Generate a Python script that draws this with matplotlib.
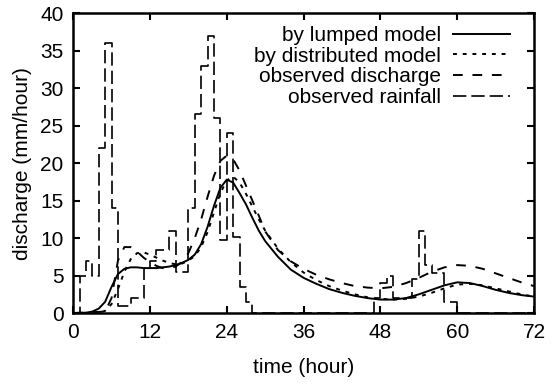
import matplotlib
matplotlib.use('Agg')
import matplotlib.pyplot as plt

plt.rcParams['font.family'] = ['Liberation Sans', 'DejaVu Sans']

# observed rainfall, hourly blocks starting at hour 0
rain_hours = list(range(0, 73))
rain = [0, 5, 7, 5, 22, 36, 14, 1, 1, 2, 2, 6, 7, 8.4, 8.4, 11, 5.5, 5.5, 14, 26.5,
        33, 37, 26, 9.7, 24, 10.2, 3.5, 1.5, 0, 0, 0, 0, 0, 0, 0, 0, 0, 0, 0, 0,
        0, 0, 0, 0, 0, 0, 0, 2, 4, 5, 2, 2, 2, 4.6, 11, 6.4, 5.3, 5.3, 1.5, 1.5,
        0, 0, 0, 0, 0, 0, 0, 0, 0, 0, 0, 0]
rain = rain + [rain[-1]]

# lumped model
t_lump = [0, 2, 3, 4, 5, 6, 7, 8, 9, 10, 11, 12, 13, 14, 15, 16, 17, 18, 19, 20,
          21, 22, 23, 24, 25, 26, 27, 28, 29, 30, 32, 34, 36, 38, 40, 42, 44, 46,
          48, 50, 52, 54, 56, 58, 60, 62, 64, 66, 68, 70, 72]
q_lump = [0, 0.05, 0.2, 0.6, 1.5, 3.5, 5.2, 5.9, 6.1, 6.1, 6.0, 6.0, 6.0, 6.1,
          6.2, 6.4, 6.7, 7.1, 7.8, 9.2, 11.5, 14.3, 16.7, 17.8, 17.4, 16.0, 14.5,
          12.7, 11.0, 9.6, 7.5, 5.8, 4.7, 3.9, 3.2, 2.7, 2.3, 2.0, 1.8, 1.8, 2.0,
          2.5, 3.1, 3.7, 4.1, 4.0, 3.6, 3.1, 2.7, 2.4, 2.2]

# distributed model
t_dist = [0, 4, 5, 6, 7, 8, 9, 10, 11, 12, 13, 14, 15, 16, 17, 18, 19, 20, 21,
          22, 23, 24, 25, 26, 27, 28, 29, 30, 32, 34, 36, 38, 40, 42, 44, 46, 48,
          50, 52, 54, 56, 58, 60, 62, 64, 66, 68, 70, 72]
q_dist = [0, 0.05, 0.3, 1.2, 3.2, 5.5, 7.2, 8.0, 8.1, 7.8, 7.4, 7.0, 6.7, 6.5,
          6.6, 7.0, 7.6, 8.8, 10.8, 13.4, 16.0, 17.7, 18.2, 17.4, 15.9, 14.2,
          12.5, 11.0, 8.6, 6.8, 5.4, 4.4, 3.6, 3.0, 2.5, 2.1, 1.9, 1.8, 1.9, 2.2,
          2.7, 3.3, 3.8, 3.9, 3.7, 3.3, 2.9, 2.5, 2.2]

# observed discharge
t_obs = [0, 5, 6, 7, 8, 9, 10, 11, 12, 13, 14, 15, 16, 17, 18, 19, 20, 21, 22,
         23, 24, 25, 26, 27, 28, 29, 30, 32, 34, 36, 38, 40, 42, 44, 46, 48, 50,
         52, 54, 56, 58, 60, 62, 64, 66, 68, 70, 72]
q_obs = [0, 0.2, 2, 7, 8.8, 8.8, 8.2, 7.4, 6.8, 6.3, 6.0, 6.0, 6.2, 6.8, 8.0,
         10.0, 12.5, 15.5, 18.3, 20.3, 21.0, 20.5, 19.0, 17.0, 15.0, 13.0, 10.9,
         8.4, 6.9, 5.9, 5.1, 4.5, 4.0, 3.6, 3.4, 3.3, 3.5, 4.0, 4.7, 5.5, 6.1,
         6.4, 6.3, 5.9, 5.3, 4.7, 4.1, 3.6]

xticks = [0, 12, 24, 36, 48, 60, 72]
yticks = [0, 5, 10, 15, 20, 25, 30, 35, 40]

fig = plt.figure(figsize=(5.54, 3.87), dpi=100, facecolor='white')
ax = fig.add_axes([0.132, 0.191, 0.832, 0.775])

ax.plot(t_lump, q_lump, color='black', lw=1.4, label='by lumped model')
ax.plot(t_dist, q_dist, color='black', lw=1.4, linestyle=(0, (2, 3)),
        label='by distributed model')
ax.plot(t_obs, q_obs, color='black', lw=1.4, linestyle=(0, (5, 5)),
        label='observed discharge')
ax.step(rain_hours, rain, where='post', color='black', lw=1.2,
        linestyle=(0, (8, 3)), label='observed rainfall')

ax.set_xlim(0, 72)
ax.set_ylim(0, 40)
ax.set_xticks(xticks)
ax.set_yticks(yticks)
ax.tick_params(direction='in', length=5, width=1.5, top=True, right=True,
               labelsize=15, pad=7)
for s in ax.spines.values():
    s.set_linewidth(1.8)

ax.set_xlabel('time (hour)', fontsize=15, labelpad=12)
ax.set_ylabel('discharge (mm/hour)', fontsize=15, labelpad=6)

ax.legend(loc='upper right', bbox_to_anchor=(0.965, 0.985), frameon=False,
          markerfirst=False, fontsize=15, handlelength=2.7,
          labelspacing=0.08, handletextpad=0.6, borderaxespad=0)

fig.savefig('out.png', dpi=100)
